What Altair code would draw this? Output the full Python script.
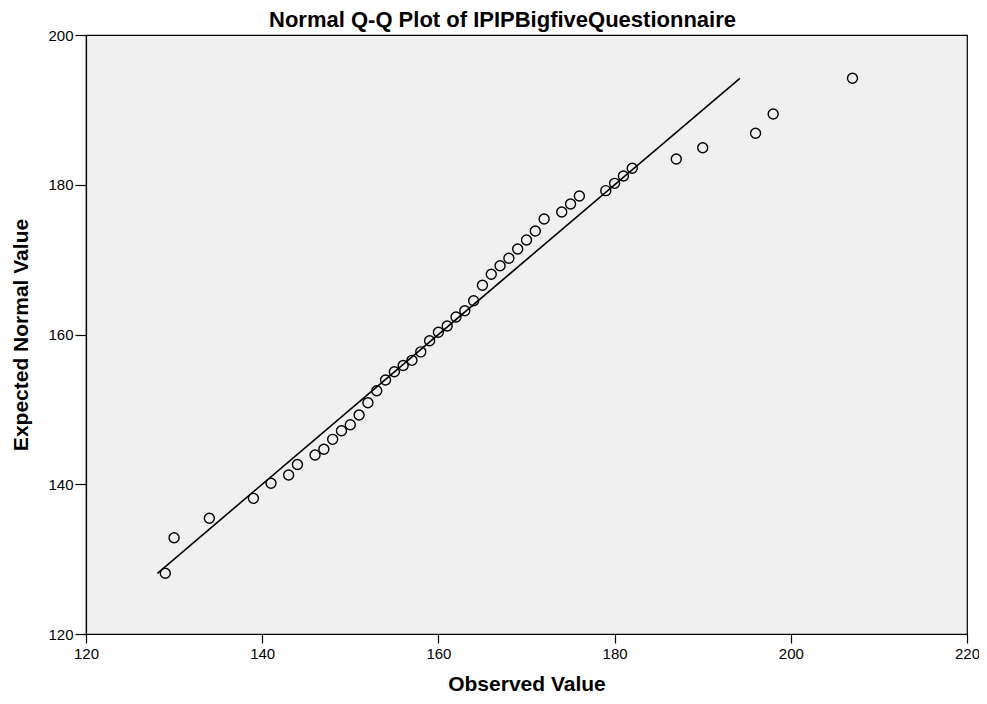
import altair as alt
import pandas as pd

observed = [129, 130, 134, 139, 141, 143, 144, 146, 147, 148, 149, 150, 151, 152,
            153, 154, 155, 156, 157, 158, 159, 160, 161, 162, 163, 164, 165, 166,
            167, 168, 169, 170, 171, 172, 174, 175, 176, 179, 180, 181, 182, 187,
            190, 196, 198, 207]
expected = [128.11, 132.86, 135.45, 138.12, 140.13, 141.24, 142.64, 143.91, 144.67,
            146.00, 147.15, 147.95, 149.25, 150.89, 152.49, 153.92, 155.03, 155.86,
            156.55, 157.68, 159.16, 160.31, 161.14, 162.34, 163.18, 164.51, 166.57,
            168.04, 169.19, 170.18, 171.42, 172.62, 173.82, 175.43, 176.36, 177.43,
            178.50, 179.21, 180.19, 181.17, 182.20, 183.44, 184.95, 186.87, 189.45,
            194.22]
x_ticks = [120, 140, 160, 180, 200, 220]
y_ticks = [120, 140, 160, 180, 200]

pts = pd.DataFrame({"obs": observed, "exp": expected})
ref_ends = [min(expected), max(expected)]
ref = pd.DataFrame({"obs": ref_ends, "exp": ref_ends})

FONT = "Liberation Sans"

xenc = alt.X("obs:Q", scale=alt.Scale(domain=[120, 220], nice=False, zero=False),
             axis=alt.Axis(values=x_ticks, title="Observed Value", grid=False,
                           tickSize=9, labelPadding=3, titlePadding=12,
                           labelFlush=False, labelFontSize=15, titleFontSize=21))
yenc = alt.Y("exp:Q", scale=alt.Scale(domain=[120, 200], nice=False, zero=False),
             axis=alt.Axis(values=y_ticks, title="Expected Normal Value", grid=False,
                           tickSize=11, labelPadding=2, titlePadding=16,
                           labelFlush=False, labelFontSize=15, titleFontSize=21))

line = alt.Chart(ref).mark_line(color="black", strokeWidth=1.6).encode(x=xenc, y=yenc)
points = alt.Chart(pts).mark_point(shape="circle", filled=False, color="black",
                                   size=100, strokeWidth=1.4, opacity=1).encode(x=xenc, y=yenc)

chart = (
    alt.layer(line, points)
    .properties(
        width=881, height=599,
        title=alt.TitleParams("Normal Q-Q Plot of IPIPBigfiveQuestionnaire",
                              fontSize=22, font=FONT, fontWeight="bold",
                              anchor="middle", frame="group", dx=-24, dy=13,
                              offset=9, color="black"),
        autosize=alt.AutoSizeParams(type="none"),
        padding={"left": 78, "top": 27, "right": 12, "bottom": 62},
        background="white",
    )
    .configure_view(fill="#F0F0F0", stroke="black", strokeWidth=1.2)
    .configure_axis(labelFont=FONT, titleFont=FONT, titleFontWeight="bold",
                    labelColor="black", titleColor="black", domainColor="black",
                    tickColor="black", domainWidth=1.2, tickWidth=1.2)
)

chart.save("out.html", embed_options={"renderer": "svg", "actions": False})
